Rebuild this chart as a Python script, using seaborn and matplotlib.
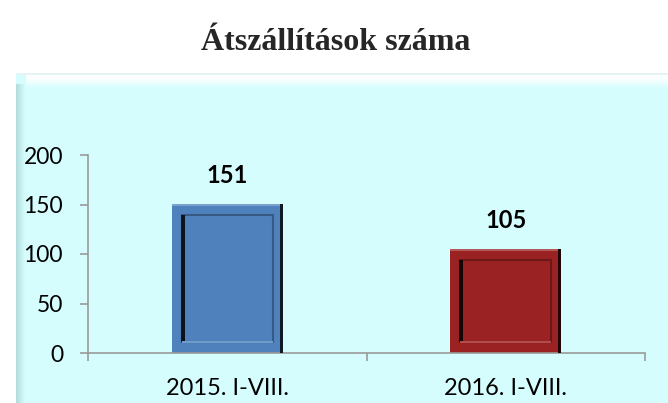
import numpy as np
import pandas as pd
import matplotlib
matplotlib.use("Agg")
import matplotlib.pyplot as plt
from matplotlib.patches import Rectangle
import seaborn as sns

# Data
categories = ["2015. I-VIII.", "2016. I-VIII."]
values = [151, 105]
bar_colors = ["#4F81BD", "#9B2222"]
y_ticks = [0, 50, 100, 150, 200]
title = "Átszállítások száma"

df = pd.DataFrame({"period": categories, "count": values})

sns.set_theme(style="white")
plt.rcParams["font.family"] = ["Lato", "DejaVu Sans"]

W, H = 668, 403
fig = plt.figure(figsize=(W / 100, H / 100), dpi=100)
fig.patch.set_facecolor("white")

# Background panel with bevelled left and top edges (pixel coordinates)
bg = fig.add_axes([0, 0, 1, 1], zorder=0)
bg.set_xlim(0, W)
bg.set_ylim(H, 0)
bg.axis("off")
panel_color = np.array([0.835, 0.992, 0.992])
bg.add_patch(Rectangle((16, 73), W - 16, H - 73, color=panel_color, lw=0))
# top bevel: white fading into the panel colour
top = np.linspace(0, 1, 32)[:, None, None] ** 1.5
top_img = (1 - top) * np.array([1.0, 1.0, 1.0]) + top * panel_color
top_img = np.repeat(top_img, 2, axis=1)
bg.imshow(top_img, extent=(26, W, 88, 75), aspect="auto", zorder=1)
# left bevel: soft grey-teal fading into the panel colour
left = np.linspace(0, 1, 32)[None, :, None]
left_img = (1 - left) * np.array([0.70, 0.86, 0.86]) + left * panel_color
left_img = np.repeat(left_img, 2, axis=0)
bg.imshow(left_img, extent=(16, 25, H, 84), aspect="auto", zorder=1)
bg.add_patch(Rectangle((16, 73), W - 16, 2, color="#e4f4f4", lw=0, zorder=2))

# Main chart axes
ax = fig.add_axes([88 / W, (H - 353) / H, (645 - 88) / W, (353 - 155) / H],
                  zorder=2)
ax.set_facecolor("none")

sns.barplot(data=df, x="period", y="count", hue="period",
            palette=bar_colors, width=0.4, saturation=1, legend=False,
            edgecolor="none", ax=ax)

ax.set_xlim(-0.5, len(categories) - 0.5)
ax.set_ylim(0, 200)
ax.set_yticks(y_ticks)
ax.set_xlabel("")
ax.set_ylabel("")

# Bevel frame on each bar
px_x = 0.4 / 111
px_y = 200 / 198


def shade(c, f):
    c = np.array(matplotlib.colors.to_rgb(c))
    return tuple(np.clip(c * f, 0, 1)) if f < 1 else tuple(c + (1 - c) * (f - 1))


for patch, col in zip(ax.patches, bar_colors):
    x0, y0 = patch.get_x(), patch.get_y()
    w, h = patch.get_width(), patch.get_height()
    ix, iy = 10 * px_x, 11 * px_y
    # light rim along the top
    ax.add_patch(Rectangle((x0, y0 + h - 2 * px_y), w, 2 * px_y,
                           color=shade(col, 1.25), lw=0, zorder=3))
    # dark outer right edge
    ax.add_patch(Rectangle((x0 + w - 3 * px_x, y0), 3 * px_x, h,
                           color=shade(col, 0.2), lw=0, zorder=3))
    # recessed inner panel
    ax.add_patch(Rectangle((x0 + ix, y0 + iy), w - 2 * ix, h - 2 * iy,
                           facecolor=col, edgecolor=shade(col, 0.7),
                           lw=1.5, zorder=4))
    # dark inner left edge
    ax.add_patch(Rectangle((x0 + ix - 1 * px_x, y0 + iy), 4 * px_x, h - 2 * iy,
                           color=shade(col, 0.15), lw=0, zorder=5))
    # light inner bottom edge
    ax.add_patch(Rectangle((x0 + ix, y0 + iy - 1 * px_y), w - 2 * ix, 2 * px_y,
                           color=shade(col, 1.2), lw=0, zorder=5))

# Value labels
for i, v in enumerate(values):
    ax.annotate(str(v), (i, v), xytext=(0, 12), textcoords="offset points",
                ha="center", va="bottom", fontsize=17, fontweight="bold",
                color="black")

# Axis styling
for s in ["top", "right"]:
    ax.spines[s].set_visible(False)
for s in ["left", "bottom"]:
    ax.spines[s].set_color("#9a9a9a")
    ax.spines[s].set_linewidth(1.2)

ax.tick_params(axis="y", which="major", left=True, length=6, width=1.2,
               color="#9a9a9a", labelsize=16.5, labelcolor="black", pad=12)
ax.set_xticks(list(np.arange(-0.5, len(categories), 1.0)), minor=True)
ax.tick_params(axis="x", which="minor", bottom=True, length=6, width=1.2,
               color="#9a9a9a")
ax.tick_params(axis="x", which="major", bottom=False, labelsize=17,
               labelcolor="black", pad=12)

fig.text(336 / W, 1 - 42 / H, title, ha="center", va="center",
         fontsize=23, fontweight="bold", family=["Liberation Serif"])

fig.savefig("out.png", dpi=100)
